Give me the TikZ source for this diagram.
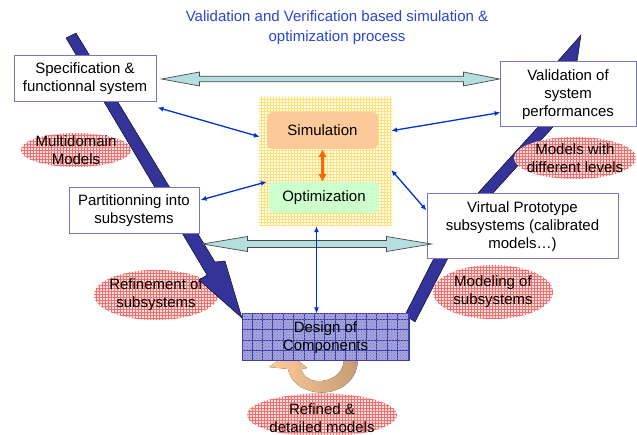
\documentclass[tikz,border=0pt]{standalone}
\usepackage{fontspec}
\setmainfont{Liberation Sans}
\usetikzlibrary{shapes.geometric,patterns,arrows.meta,calc}
\definecolor{bandblue}{HTML}{333399}
\definecolor{boxline}{HTML}{7777BB}
\definecolor{linkblue}{HTML}{0033CC}
\definecolor{titleblue}{HTML}{2A45D0}
\definecolor{simfill}{HTML}{FCC999}
\definecolor{optfill}{HTML}{CCFFCC}
\definecolor{fatfill}{HTML}{B5DEDE}
\definecolor{fatline}{HTML}{4A4A4A}
\definecolor{orangeline}{HTML}{FF6600}
\definecolor{designfill}{HTML}{A4A4E0}
\definecolor{designdark}{HTML}{3C3CA0}
\definecolor{curvelight}{HTML}{FFCC99}
\definecolor{curvedark}{HTML}{C49C74}
\definecolor{gridyellow}{HTML}{FFE07A}
\definecolor{tagfill}{HTML}{FBE0E0}
\definecolor{tagline}{HTML}{F07070}
\begin{document}
\begin{tikzpicture}[x=1pt,y=-1pt,
  every node/.style={font=\fontsize{15}{18}\selectfont, align=center, inner sep=0pt},
  stagebox/.style={draw=boxline, line width=1pt, fill=white},
  tag/.style={ellipse, fill=tagfill, postaction={pattern=grid, pattern color=tagline}},
  link/.style={draw=linkblue, line width=1.3pt, {Latex[length=6pt,width=5pt]}-{Latex[length=6pt,width=5pt]}},
  band/.style={fill=bandblue, draw=black, line width=0.4pt, line join=miter},
  fatarrow/.style={fill=fatfill, draw=fatline, line width=0.7pt, line join=miter}
]
\useasboundingbox (0,0) rectangle (637,435);

% title
\node[text=titleblue, font=\fontsize{15}{20}\selectfont] (title) at (337,28)
  {Validation and Verification based simulation \&\\optimization process};

% tags lying under the process bands
\node[tag, minimum width=110pt, minimum height=34pt] (t1) at (76,150) {};
\node (t1text) at (t1) {Multidomain\\Models};
\node[tag, minimum width=124pt, minimum height=50pt] (t3) at (156,295) {};
\node (t3text) at (t3) {Refinement of\\subsystems};
\node[tag, minimum width=120pt, minimum height=54pt] (t4) at (493,292) {};
\node (t4text) at (t4) {Modeling of\\subsystems};

% descending and ascending process bands
\path[band] (66,38) -- (76,33) -- (215,262) -- (225,261) -- (242,318)
  -- (199,280) -- (207,275) -- cycle;
\path[band] (405,315) -- (433,260) -- (478,193) -- (538,127) -- (557,62)
  -- (581,35) -- (577,62) -- (553,127) -- (493,193) -- (447,260)
  -- (415,322) -- cycle;

% tag drawn above the ascending band
\node[tag, minimum width=122pt, minimum height=42pt] (t2) at (575,158) {};
\node (t2text) at (t2) {Models with\\different levels};

% refinement loop under the component design
\fill[left color=curvelight, right color=curvedark]
  (358,358) .. controls (358,386) and (332,395) .. (315,392)
  .. controls (299,389) and (290,380) .. (288,369)
  -- (269,367) -- (289,353) -- (307,368) -- (301,369)
  .. controls (304,378) and (312,382) .. (322,381)
  .. controls (336,379) and (344,371) .. (344,358) -- cycle;

% simulation / optimization core
\node[fill=yellow!8, postaction={pattern=grid, pattern color=gridyellow},
  minimum width=133pt, minimum height=129pt] (core) at (325.5,161.5) {};
\node[fill=simfill, rounded corners=6pt, minimum width=111pt, minimum height=37pt]
  (sim) at (322.5,130.5) {Simulation};
\node[fill=optfill, rounded corners=5pt, minimum width=110pt, minimum height=31pt]
  (opt) at (324,197.5) {Optimization};
\draw[orangeline, line width=3pt, {Latex[length=8pt,width=9pt]}-{Latex[length=8pt,width=9pt]}]
  (sim.south) -- (sim.south |- opt.north);

% stages
\node[stagebox, minimum width=142pt, minimum height=46pt] (spec) at (85,79)
  {Specification \&\\functionnal system};
\node[stagebox, minimum width=136pt, minimum height=65pt] (val) at (568,94.5)
  {Validation of\\system\\performances};
\node[stagebox, minimum width=130pt, minimum height=46pt] (part) at (134,211)
  {Partitionning into\\subsystems};
\node[stagebox, minimum width=191pt, minimum height=65pt] (vp) at (522.5,226.5)
  {Virtual Prototype\\subsystems (calibrated\\models\dots)};
\node[draw=designdark, line width=1pt, fill=designfill,
  postaction={pattern=crosshatch dots, pattern color=designdark!70},
  path picture={\draw[designdark, line width=0.5pt, step=10.4pt]
    (path picture bounding box.south west) grid (path picture bounding box.north east);},
  minimum width=167pt, minimum height=47pt] (design) at (325.5,337.5)
  {Design of\\Components};

% wide two-way links between the V branches
\coordinate (fa1) at ([xshift=5pt]spec.east);
\coordinate (fa2) at (val.west |- fa1);
\path[fatarrow] (fa1) -- ($(fa1)+(38,-7)$) -- ($(fa1)+(38,-2.8)$)
  -- ($(fa2)+(-36,-2.8)$) -- ($(fa2)+(-36,-7)$) -- (fa2)
  -- ($(fa2)+(-36,7)$) -- ($(fa2)+(-36,2.8)$) -- ($(fa1)+(38,2.8)$)
  -- ($(fa1)+(38,7)$) -- cycle;
\coordinate (fb1) at ([shift={(3,33)}]part.east);
\coordinate (fb2) at ($(vp.west |- fb1)+(5,0)$);
\path[fatarrow] (fb1) -- ($(fb1)+(45,-7.5)$) -- ($(fb1)+(45,-3.5)$)
  -- ($(fb2)+(-45,-3.5)$) -- ($(fb2)+(-45,-7.5)$) -- (fb2)
  -- ($(fb2)+(-45,7.5)$) -- ($(fb2)+(-45,3.5)$) -- ($(fb1)+(45,3.5)$)
  -- ($(fb1)+(45,7.5)$) -- cycle;

% links to the simulation / optimization core
\draw[link] ([shift={(1,5)}]spec.south east) -- ([shift={(1,40)}]core.north west);
\draw[link] ([shift={(1,-11)}]part.east) -- ([shift={(-2,0)}]opt.north west);
\draw[link] ([shift={(1,18)}]val.west) -- ([shift={(-1,34)}]core.north east);
\draw[link] ([shift={(0,17)}]vp.north west) -- ([shift={(-1,73)}]core.north east);
\draw[link] ([shift={(-9,0)}]core.south) -- ([shift={(-9,0)}]design.north);

% bottom tag
\node[tag, minimum width=150pt, minimum height=43pt] (t5) at (322,415) {};
\node (t5text) at (322,418) {Refined \&\\detailed models};
\end{tikzpicture}
\end{document}
